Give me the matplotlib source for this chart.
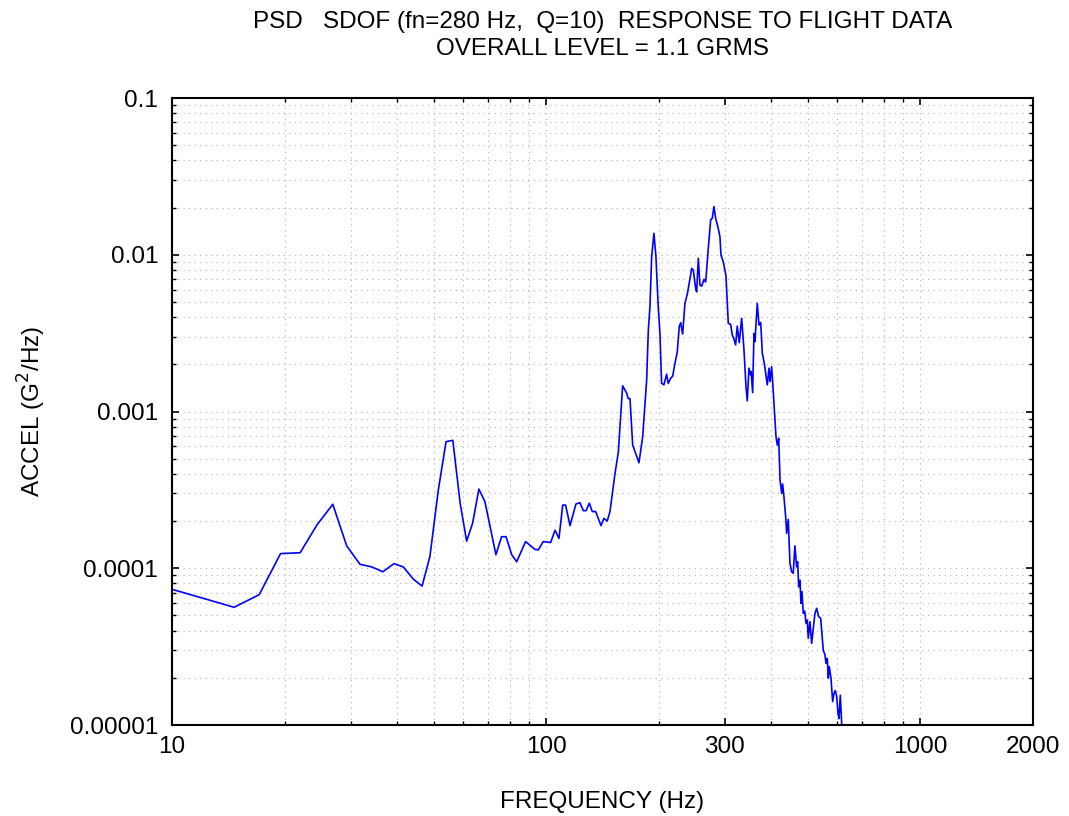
import numpy as np
import matplotlib
matplotlib.use('Agg')
import matplotlib.pyplot as plt
from matplotlib.ticker import LogLocator, NullFormatter, FixedLocator, FixedFormatter

plt.rcParams['font.family'] = ['Liberation Sans', 'DejaVu Sans']

# frecuencia (Hz) y PSD (G^2/Hz)
freq = [10.0, 14.65, 17.1, 19.5, 22.0, 24.4, 26.9, 29.3, 31.8, 34.2, 36.6, 39.2,
        41.5, 44.2, 46.6, 48.9, 51.5, 54.0, 56.3, 58.9, 61.3, 63.6, 66.1, 68.6,
        73.4, 76.0, 78.1, 80.9, 83.4, 88.1, 93.3, 95.3, 98.2, 102.8, 105.6, 108.2,
        110.7, 112.7, 115.8, 120.1, 123.1, 125.7, 127.8, 130.4, 132.8, 135.6, 140.1,
        142.7, 145.6, 148.1, 152.7, 155.9, 160.1, 164.1, 165.7, 167.5, 170.3, 177.0,
        181.1, 185.6, 187.5, 189.4, 191.4, 194.1, 196.5, 199.3, 201.4, 203.5, 206.4,
        209.9, 212.0, 215.1, 217.8, 220.9, 224.1, 226.8, 228.8, 231.6, 234.9, 238.4,
        242.3, 244.9, 247.2, 250.9, 252.5, 255.0, 257.6, 260.4, 264.1, 266.9, 271.2,
        275.2, 277.9, 280.8, 283.8, 288.4, 291.4, 293.2, 297.4, 302.4, 306.7, 311.2,
        314.3, 317.6, 320.9, 324.1, 328.1, 333.0, 337.8, 342.0, 344.7, 348.3, 352.0,
        353.0, 356.3, 359.2, 361.4, 366.6, 370.5, 374.4, 378.2, 382.8, 389.9, 394.0,
        396.4, 400.5, 404.5, 411.4, 414.7, 418.3, 421.7, 426.1, 428.5, 432.0, 437.3,
        439.2, 443.6, 448.2, 452.9, 457.4, 462.2, 467.1, 470.0, 473.0, 476.8, 479.7,
        482.7, 486.6, 490.8, 494.7, 498.7, 501.7, 506.9, 512.3, 517.4, 522.8, 528.4,
        534.9, 541.5, 550.2, 556.1, 559.4, 564.0, 567.5, 571.0, 577.0, 583.0, 587.8,
        592.5, 597.7, 602.4, 606.2, 611.1, 616.3, 618.0]
psd = [7.34e-5, 5.64e-5, 6.78e-5, 1.24e-4, 1.256e-4, 1.89e-4, 2.56e-4, 1.39e-4,
       1.06e-4, 1.02e-4, 9.5e-5, 1.07e-4, 1.02e-4, 8.5e-5, 7.7e-5, 1.19e-4, 3.16e-4,
       6.42e-4, 6.55e-4, 2.6e-4, 1.49e-4, 1.94e-4, 3.2e-4, 2.66e-4, 1.22e-4, 1.59e-4,
       1.59e-4, 1.22e-4, 1.10e-4, 1.48e-4, 1.32e-4, 1.31e-4, 1.48e-4, 1.46e-4, 1.75e-4,
       1.55e-4, 2.53e-4, 2.53e-4, 1.87e-4, 2.57e-4, 2.62e-4, 2.33e-4, 2.33e-4, 2.6e-4,
       2.3e-4, 2.3e-4, 1.87e-4, 2.08e-4, 2.0e-4, 2.3e-4, 4.0e-4, 5.5e-4, 1.46e-3,
       1.31e-3, 1.21e-3, 1.21e-3, 6.11e-4, 4.71e-4, 6.9e-4, 1.59e-3, 3.31e-3, 4.66e-3,
       9.7e-3, 1.37e-2, 9.7e-3, 4.66e-3, 3.15e-3, 1.51e-3, 1.48e-3, 1.73e-3, 1.51e-3,
       1.63e-3, 1.68e-3, 2.03e-3, 2.41e-3, 3.48e-3, 3.69e-3, 3.12e-3, 4.9e-3, 5.62e-3,
       7.08e-3, 8.19e-3, 8.0e-3, 6.1e-3, 5.8e-3, 9.5e-3, 6.41e-3, 6.3e-3, 6.97e-3,
       6.7e-3, 1.10e-2, 1.67e-2, 1.71e-2, 2.03e-2, 1.71e-2, 1.47e-2, 1.30e-2, 9.96e-3,
       9.0e-3, 7.32e-3, 3.65e-3, 3.6e-3, 3.08e-3, 2.9e-3, 2.66e-3, 3.51e-3, 2.75e-3,
       3.93e-3, 2.47e-3, 1.44e-3, 1.17e-3, 1.89e-3, 1.71e-3, 1.8e-3, 1.32e-3, 3.15e-3,
       2.79e-3, 4.9e-3, 3.56e-3, 3.7e-3, 2.35e-3, 2.03e-3, 1.48e-3, 1.89e-3, 1.55e-3,
       1.93e-3, 1.34e-3, 6.9e-4, 6.1e-4, 6.75e-4, 3.66e-4, 3.0e-4, 3.45e-4, 2.86e-4,
       2.03e-4, 1.67e-4, 2.05e-4, 1.08e-4, 9.5e-5, 9.3e-5, 1.39e-4, 1.02e-4, 1.10e-4,
       7.6e-5, 8.4e-5, 5.97e-5, 7.1e-5, 5.16e-5, 5.33e-5, 4.46e-5, 4.68e-5, 3.57e-5,
       4.56e-5, 3.32e-5, 4.14e-5, 5.16e-5, 5.55e-5, 4.91e-5, 4.8e-5, 3.01e-5, 2.8e-5,
       2.48e-5, 2.66e-5, 1.99e-5, 2.36e-5, 1.99e-5, 1.41e-5, 1.59e-5, 1.66e-5, 1.52e-5,
       1.19e-5, 1.10e-5, 1.55e-5, 1.02e-5, 9.5e-6]

xticks = [10, 100, 300, 1000, 2000]
xtick_labels = ['10', '100', '300', '1000', '2000']
yticks = [1e-5, 1e-4, 1e-3, 1e-2, 1e-1]
ytick_labels = ['0.00001', '0.0001', '0.001', '0.01', '0.1']

fig = plt.figure(figsize=(10.69, 8.16), dpi=100)
ax = fig.add_axes([0.1609, 0.1115, 0.8054, 0.7684])

ax.loglog(freq, psd, color='#0000ff', linewidth=1.2)
ax.set_xlim(10, 2000)
ax.set_ylim(1e-5, 0.1)

ax.xaxis.set_major_locator(FixedLocator(xticks))
ax.xaxis.set_major_formatter(FixedFormatter(xtick_labels))
ax.xaxis.set_minor_locator(LogLocator(base=10, subs=np.arange(2, 10)))
ax.xaxis.set_minor_formatter(NullFormatter())
ax.yaxis.set_major_locator(FixedLocator(yticks))
ax.yaxis.set_major_formatter(FixedFormatter(ytick_labels))
ax.yaxis.set_minor_locator(LogLocator(base=10, subs=np.arange(2, 10)))
ax.yaxis.set_minor_formatter(NullFormatter())

ax.tick_params(which='both', direction='in', top=True, right=True, labelsize=17.5)
ax.tick_params(which='major', length=5, width=1.2)
ax.tick_params(which='minor', length=3, width=1)
ax.tick_params(axis='x', which='major', pad=8)
ax.tick_params(axis='y', which='major', pad=10)

ax.grid(True, which='both', linestyle=(0, (1, 4)), color='#b0b0b0', linewidth=0.8)
for s in ax.spines.values():
    s.set_linewidth(1.5)

ax.set_title('PSD   SDOF (fn=280 Hz,  Q=10)  RESPONSE TO FLIGHT DATA\nOVERALL LEVEL = 1.1 GRMS',
             fontsize=17.5, pad=31, linespacing=1.3)
ax.set_xlabel('FREQUENCY (Hz)', fontsize=17.5, labelpad=24)
ax.set_ylabel('ACCEL (G$^2$/Hz)', fontsize=17.5, labelpad=16)

fig.savefig('out.png', dpi=100)
